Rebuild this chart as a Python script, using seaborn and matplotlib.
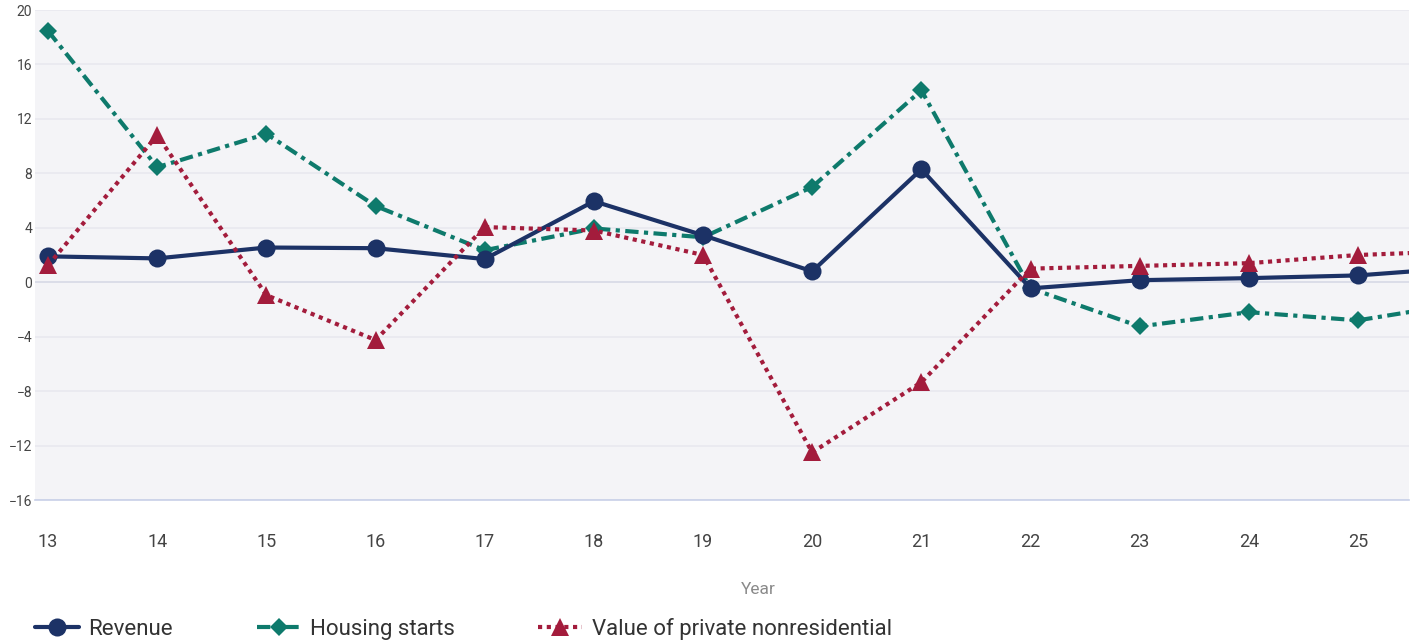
import numpy as np
import pandas as pd
import matplotlib
matplotlib.use('Agg')
import matplotlib.pyplot as plt
import seaborn as sns

# Values (year 26 sits just past the clipped right edge)
years = [13, 14, 15, 16, 17, 18, 19, 20, 21, 22, 23, 24, 25, 26]
revenue = [1.9, 1.75, 2.55, 2.5, 1.7, 5.95, 3.45, 0.8, 8.3, -0.45, 0.15, 0.3, 0.5, 1.1]
housing_starts = [18.45, 8.45, 10.9, 5.6, 2.35, 3.95, 3.3, 7.0, 14.1, -0.45, -3.25, -2.2, -2.8, -1.5]
private_nonres = [1.25, 10.8, -0.95, -4.25, 4.05, 3.8, 2.0, -12.5, -7.35, 1.0, 1.2, 1.4, 2.0, 2.3]
y_ticks = [-16, -12, -8, -4, 0, 4, 8, 12, 16, 20]
x_ticks = [13, 14, 15, 16, 17, 18, 19, 20, 21, 22, 23, 24, 25]

sns.set_theme(style='white')
plt.rcParams['font.family'] = ['Roboto', 'DejaVu Sans']

df = pd.DataFrame({'Year': years, 'Revenue': revenue,
                   'Housing starts': housing_starts,
                   'Value of private nonresidential': private_nonres})

fig = plt.figure(figsize=(14.16, 6.43), dpi=100)
ax = fig.add_axes([35 / 1416, 143 / 643, 1374 / 1416, 490 / 643])
ax.set_facecolor('#f4f4f7')

# gridlines first so the series sit above them
for t in y_ticks:
    ax.axhline(t, color='#d6d9e6' if t == 0 else '#e9e9ef', lw=1.2, zorder=0)

sns.lineplot(data=df, x='Year', y='Revenue', ax=ax, color='#1c3266', lw=3,
             marker='o', markersize=13, markeredgewidth=0, label='Revenue', zorder=4)
sns.lineplot(data=df, x='Year', y='Housing starts', ax=ax, color='#0e7a6c', lw=3,
             linestyle=(0, (3.2, 1.3, 1, 1.3)), marker='D', markersize=9,
             markeredgewidth=0, label='Housing starts', zorder=3)
sns.lineplot(data=df, x='Year', y='Value of private nonresidential', ax=ax,
             color='#a31c3c', lw=3, linestyle=(0, (1, 1.1)), marker='^',
             markersize=13, markeredgewidth=0, dash_capstyle='butt',
             label='Value of private nonresidential', zorder=5)

ax.set_xlim(12.88, 25.467)
ax.set_ylim(-16, 20)
ax.set_xticks(x_ticks)
ax.set_yticks(y_ticks)
ax.set_xlabel('')
ax.set_ylabel('')
for s in ['top', 'right', 'left']:
    ax.spines[s].set_visible(False)
ax.spines['bottom'].set_color('#c8d0e8')
ax.spines['bottom'].set_linewidth(1.2)
ax.tick_params(axis='x', length=7, width=1.2, color='#c8d0e8', pad=17,
               labelsize=13, labelcolor='#444444')
ax.tick_params(axis='y', length=0, pad=2, labelsize=10, labelcolor='#444444')

fig.text(758 / 1416, 1 - 590 / 643, 'Year', ha='center', va='center',
         fontsize=12.5, color='#8a8a8a')

ax.get_legend().remove()
handles, labels = ax.get_legend_handles_labels()
fig.legend(handles, labels, loc='center left', bbox_to_anchor=(35 / 1416, 1 - 629 / 643),
           ncol=3, frameon=False, fontsize=16, handlelength=1.98, handletextpad=0.42,
           columnspacing=3.76, labelcolor='#333333', borderaxespad=0, borderpad=0)

fig.savefig('out.png', dpi=100, facecolor='white')
